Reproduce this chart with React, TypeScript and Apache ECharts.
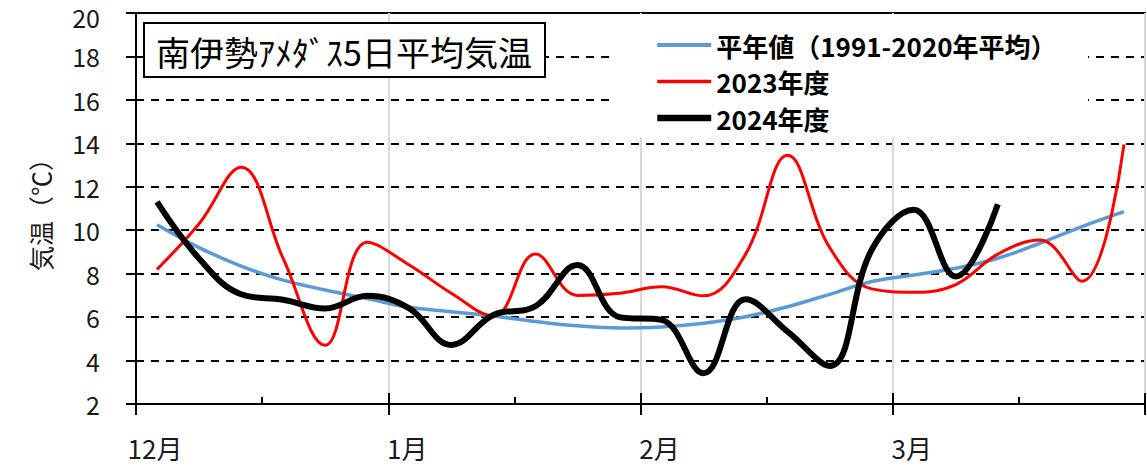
import React, { useEffect, useRef } from 'react';
import * as echarts from 'echarts';

const titleText = '南伊勢ｱﾒﾀﾞｽ5日平均気温';
const yAxisName = '気温（℃）';
const monthLabels = ['12月', '1月', '2月', '3月'];
const seriesNames = ['平年値（1991-2020年平均）', '2023年度', '2024年度'];

// 5-day (pentad) mean temperatures, Dec 1st pentad .. Mar 6th pentad
const normalValues = [10.25, 9.2, 8.35, 7.7, 7.25, 6.85, 6.45, 6.25, 6.05, 5.8, 5.6, 5.5, 5.55, 5.72, 6.02, 6.48, 7.05, 7.64, 7.94, 8.25, 8.71, 9.4, 10.17, 10.86];
const values2023 = [8.2, 10.3, 12.9, 8.7, 4.7, 9.45, 8.4, 7.1, 6.05, 8.9, 7.0, 7.1, 7.4, 6.98, 8.9, 13.45, 9.2, 7.3, 7.15, 7.5, 8.9, 9.55, 7.65, 13.95];
const values2024 = [11.3, 8.7, 7.05, 6.8, 6.4, 6.98, 6.4, 4.72, 6.1, 6.5, 8.4, 6.0, 5.87, 3.41, 6.82, 5.33, 3.75, 9.1, 10.94, 7.87, 11.2];

const FONT = '"Noto Sans CJK JP", "Noto Sans", sans-serif';

const toPoints = (arr: number[]) => arr.map((v, i) => [i + 0.5, v]);

export default function App() {
  const ref = useRef<HTMLDivElement>(null);
  useEffect(() => {
    if (!ref.current) return;
    const chart = echarts.init(ref.current, null, { renderer: 'svg' });
    const smooth = 0.4;
    chart.setOption({
      animation: false,
      textStyle: { fontFamily: FONT },
      grid: {
        left: 136, right: 2, top: 13, bottom: 64,
        containLabel: false, outerBoundsMode: 'none',
        show: true, borderColor: '#000', borderWidth: 2, backgroundColor: 'transparent',
      },
      legend: {
        orient: 'vertical',
        left: 654, top: 32,
        padding: 0,
        itemWidth: 54, itemHeight: 14, itemGap: 10.5,
        itemStyle: { opacity: 0 },
        textStyle: { fontFamily: FONT, fontSize: 26, fontWeight: 'bold', color: '#000', lineHeight: 26 },
        data: [
          { name: seriesNames[0], lineStyle: { width: 4 } },
          { name: seriesNames[1], lineStyle: { width: 3.5 } },
          { name: seriesNames[2], lineStyle: { width: 6.5 } },
        ],
        z: 6,
      },
      xAxis: [
        {
          type: 'value', min: 0, max: 24, interval: 6, position: 'bottom',
          axisLine: { show: true, onZero: false, lineStyle: { color: '#000', width: 2 } },
          axisTick: { show: true, inside: false, length: 11, lineStyle: { color: '#000', width: 2 } },
          axisLabel: {
            show: true, margin: 30, fontSize: 26, color: '#1a1a1a', fontFamily: FONT,
            padding: [0, 0, 0, 38],
            formatter: (v: number) => (v % 6 === 0 && v / 6 < monthLabels.length ? monthLabels[v / 6] : ''),
          },
          splitLine: { show: true, lineStyle: { color: '#d9d9d9', width: 2 } },
        },
        {
          type: 'value', min: 0, max: 24, interval: 6, position: 'bottom',
          axisLine: { show: false, onZero: false },
          axisTick: { show: true, inside: true, length: 11, lineStyle: { color: '#000', width: 2 } },
          minorTick: { show: true, splitNumber: 2, length: 7, lineStyle: { color: '#000', width: 2 } },
          axisLabel: { show: false },
          splitLine: { show: false },
        },
      ],
      yAxis: {
        type: 'value', min: 2, max: 20, interval: 2,
        name: yAxisName, nameLocation: 'middle', nameGap: 84, nameRotate: 90,
        nameTextStyle: { fontSize: 25, color: '#1a1a1a', fontFamily: FONT },
        axisLine: { show: true, lineStyle: { color: '#000', width: 2 } },
        axisTick: { show: true, inside: false, length: 10, lineStyle: { color: '#000', width: 2 } },
        axisLabel: {
          margin: 36, fontSize: 25, lineHeight: 24, color: '#1a1a1a', fontFamily: FONT,
          formatter: (v: number) => (v === 20 ? '{t|' + v + '}' : String(v)),
          rich: { t: { fontSize: 25, lineHeight: 24, color: '#1a1a1a', fontFamily: FONT, padding: [8, 0, 0, 0] } },
        },
        splitLine: { show: true, lineStyle: { color: '#000', width: 2, type: [8, 7] } },
      },
      graphic: [
        {
          type: 'rect', z: 3,
          shape: { x: 611, y: 14, width: 477, height: 123 },
          style: { fill: '#fff' },
        },
        {
          type: 'rect', z: 3,
          shape: { x: 144, y: 23, width: 401, height: 54 },
          style: { fill: '#fff', stroke: '#000', lineWidth: 2 },
        },
        {
          type: 'text', z: 4, x: 344, y: 51,
          style: { text: titleText, fontSize: 34, fontFamily: FONT, fill: '#000', align: 'center', verticalAlign: 'middle' },
        },
      ],
      series: [
        {
          name: seriesNames[0], type: 'line', data: toPoints(normalValues), smooth,
          symbol: 'none', lineStyle: { color: '#5b9bd5', width: 3.5 }, itemStyle: { color: '#5b9bd5' }, z: 2,
        },
        {
          name: seriesNames[1], type: 'line', data: toPoints(values2023), smooth,
          symbol: 'none', lineStyle: { color: '#ff0000', width: 3 }, itemStyle: { color: '#ff0000' }, z: 3,
        },
        {
          name: seriesNames[2], type: 'line', data: toPoints(values2024), smooth,
          symbol: 'none', lineStyle: { color: '#000', width: 6 }, itemStyle: { color: '#000' }, z: 4,
        },
      ],
    });
    return () => chart.dispose();
  }, []);
  return <div ref={ref} style={{ position: 'absolute', left: 0, top: 0, width: 1147, height: 468 }} />;
}
